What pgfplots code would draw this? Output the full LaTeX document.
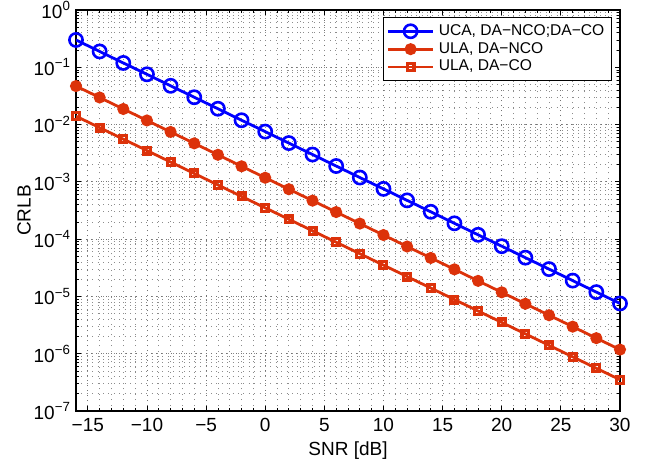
\documentclass[border=0pt]{standalone}
\usepackage{fontspec}
\setmainfont{Liberation Sans}
\usepackage{pgfplots}
\pgfplotsset{compat=1.18}
\definecolor{mblue}{RGB}{0,0,255}
\definecolor{mred}{RGB}{220,50,10}
\begin{document}
\begin{tikzpicture}
\begin{axis}[
    scale only axis,
    width=272pt, height=200.5pt,
    ymode=log,
    xmin=-16, xmax=30,
    ymin=1e-7, ymax=1,
    font=\fontsize{9.5}{11}\selectfont,
    xtick={-15,-10,...,30},
    xticklabels={−15,−10,−5,0,5,10,15,20,25,30},
    minor x tick num=4,
    ytick={1e-7,1e-6,1e-5,1e-4,1e-3,1e-2,1e-1,1},
    yticklabels={10\textsuperscript{−7},10\textsuperscript{−6},10\textsuperscript{−5},10\textsuperscript{−4},10\textsuperscript{−3},10\textsuperscript{−2},10\textsuperscript{−1},10\textsuperscript{0}},
    yticklabel style={xshift=1pt},
    tick align=inside,
    major tick length=2.5pt,
    minor tick length=1.3pt,
    every tick/.style={black, line width=0.4pt},
    grid=both,
    major grid style={dash pattern=on 0.5pt off 2pt, black!55, line width=0.4pt},
    minor grid style={dash pattern=on 0.5pt off 2.2pt, black!45, line width=0.4pt},
    axis line style={line width=0.6pt},
    xlabel={SNR [dB]},
    ylabel={CRLB},
    xlabel style={yshift=2pt},
    ylabel style={yshift=-5.5pt},
    legend style={at={(0.985,0.983)}, anchor=north east, draw=black,
        line width=0.5pt, fill=white, row sep=-2pt, inner sep=1.5pt,
        font=\fontsize{7.8}{9}\selectfont},
    legend cell align=left,
    legend image code/.code={%
        \draw[#1, mark repeat=2, mark phase=2] plot coordinates {(0cm,0cm) (0.4cm,0cm) (0.8cm,0cm)};},
]
\addplot[mblue, line width=1.4pt, mark=o, mark size=3.3pt, mark options={line width=1.3pt}] coordinates {
(-16,0.30) (-14,0.189) (-12,0.119) (-10,0.0754) (-8,0.0475) (-6,0.030)
(-4,0.0189) (-2,0.0119) (0,0.00754) (2,0.00475) (4,0.0030) (6,0.00189)
(8,0.00119) (10,7.54e-4) (12,4.75e-4) (14,3.0e-4) (16,1.89e-4) (18,1.19e-4)
(20,7.54e-5) (22,4.75e-5) (24,3.0e-5) (26,1.89e-5) (28,1.19e-5) (30,7.54e-6)
};
\addplot[mred, line width=1.4pt, mark=*, mark size=2.3pt] coordinates {
(-16,0.047) (-14,0.0297) (-12,0.0187) (-10,0.0118) (-8,0.00744) (-6,0.0047)
(-4,0.00297) (-2,0.00187) (0,0.00118) (2,7.44e-4) (4,4.7e-4) (6,2.97e-4)
(8,1.87e-4) (10,1.18e-4) (12,7.44e-5) (14,4.7e-5) (16,2.97e-5) (18,1.87e-5)
(20,1.18e-5) (22,7.44e-6) (24,4.7e-6) (26,2.97e-6) (28,1.87e-6) (30,1.18e-6)
};
\addplot[mred, line width=1.4pt, mark=square, mark size=1.7pt, mark options={line width=1.6pt}] coordinates {
(-16,0.014) (-14,0.00883) (-12,0.00557) (-10,0.00352) (-8,0.00222) (-6,0.0014)
(-4,8.83e-4) (-2,5.57e-4) (0,3.52e-4) (2,2.22e-4) (4,1.4e-4) (6,8.83e-5)
(8,5.57e-5) (10,3.52e-5) (12,2.22e-5) (14,1.4e-5) (16,8.83e-6) (18,5.57e-6)
(20,3.52e-6) (22,2.22e-6) (24,1.4e-6) (26,8.83e-7) (28,5.57e-7) (30,3.52e-7)
};
\legend{UCA{,} DA−NCO;DA−CO, ULA{,} DA−NCO, ULA{,} DA−CO}
\end{axis}
\pgfresetboundingbox
\path ([shift={(-38pt,-25pt)}]current axis.south west) rectangle ([shift={(13.5pt,5pt)}]current axis.north east);
\end{tikzpicture}
\end{document}
